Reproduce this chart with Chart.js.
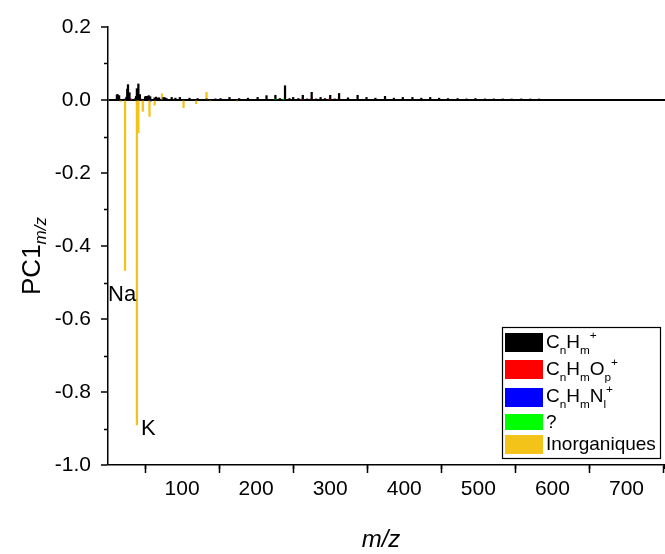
<!DOCTYPE html>
<html>
<head>
<meta charset="utf-8">
<script src="https://cdn.jsdelivr.net/npm/chart.js@4.4.0/dist/chart.umd.min.js"></script>
<style>html,body{margin:0;padding:0;background:#fff;overflow:hidden}</style>
</head>
<body>
<canvas id="c" width="665" height="554"></canvas>
<script>
// ---- data ----
const seriesNames = ['CₙHₘ⁺', 'CₙHₘOₚ⁺', 'CₙHₘNₗ⁺', '?', 'Inorganiques'];
const seriesColors = ['#000000', '#ff0000', '#0000ff', '#00ff00', '#f3c31a'];

// CnHm+
const hcMz = [12,13,14,15, 24,25,26,27,28,29, 37,38,39,40,41,42,43, 50,51,53,55,57, 63,65,67,69, 75,77,79, 86,91,97,
  110,121,133,145,152, 164,177,189,
  202,214,226,232,239,245,250,257,263,269,275,281,287,293,300,306,312,
  324,337,349,361,374,386,398,411,423,435,447,
  459,472,484,496,509,521,533,545,558,570,582];
const hcVal = [0.014,0.015,0.010,0.012, 0.004,0.008,0.030,0.042,0.012,0.020, 0.005,0.010,0.031,0.012,0.044,0.012,0.015, 0.008,0.010,0.010,0.012,0.009, 0.006,0.008,0.005,0.006, 0.007,0.006,0.004, 0.007,0.005,0.007,
  0.005,0.004,0.003,0.003,0.004, 0.007,0.004,0.005,
  0.007,0.012,0.013,0.004,0.039,0.004,0.007,0.004,0.013,0.003,0.021,0.003,0.007,0.004,0.013,0.003,0.018,
  0.006,0.013,0.007,0.005,0.010,0.005,0.007,0.007,0.005,0.007,0.005,
  0.004,0.004,0.003,0.004,0.003,0.003,0.003,0.002,0.003,0.002,0.002];
// CnHmOp+
const hcoMz = [31,44,262,274,299,311];
const hcoVal = [0.002,0.003,0.002,0.003,0.002,0.003];
// CnHmNl+
const hcnMz = [30,58];
const hcnVal = [0.003,-0.002];
// ?
const unkMz = [37,226,237];
const unkVal = [0.003,0.002,0.002];
// Inorganiques
const inMz = [17,23,39,41,47,56,63,73,102,119,133,138,174];
const inVal = [-0.004,-0.467,-0.89,-0.09,-0.031,-0.045,-0.014,0.017,-0.021,-0.01,0.021,-0.003,-0.003];

// axis ticks
const xTicks = [100,200,300,400,500,600,700];
const xMinor = [50,150,250,350,450,550,650,750];
const yTicks = [0.2,0.0,-0.2,-0.4,-0.6,-0.8,-1.0];
const yMinor = [0.1,-0.1,-0.3,-0.5,-0.7,-0.9];

// titles & annotations
const xTitle = 'm/z';
const yTitleMain = 'PC1';
const yTitleSub = 'm/z';
const annotText = ['Na','K'];
const annotMz = [23,39];
const annotVal = [-0.467,-0.89];

// legend rich text (0 normal, -1 subscript, 1 superscript)
const legendRich = [
  [['C',0],['n',-1],['H',0],['m',-1],['+',1]],
  [['C',0],['n',-1],['H',0],['m',-1],['O',0],['p',-1],['+',1]],
  [['C',0],['n',-1],['H',0],['m',-1],['N',0],['l',-1],['+',1]],
  [['?',0]],
  [['Inorganiques',0]]
];

const FAM = "'Liberation Sans', Arial, sans-serif";
Chart.defaults.font.family = FAM;
Chart.defaults.color = '#000';

function pts(mz, v){ return mz.map((m,i)=>({x:m, y:v[i]})); }
const allSeries = [pts(hcMz,hcVal), pts(hcoMz,hcoVal), pts(hcnMz,hcnVal), pts(unkMz,unkVal), pts(inMz,inVal)];

const datasets = allSeries.map((d,i)=>({
  label: seriesNames[i],
  data: d,
  backgroundColor: seriesColors[i],
  borderWidth: 0,
  barThickness: 1.6,
  grouped: false
}));

function drawRich(ctx, parts, x, y, size){
  let cx = x;
  for (const [t, mode] of parts){
    let fs = size, dy = 0;
    if (mode === -1){ fs = size*0.62; dy = size*0.30; }
    if (mode === 1){ fs = size*0.62; dy = -size*0.48; }
    ctx.font = fs + 'px ' + FAM;
    ctx.fillText(t, cx, y + dy);
    cx += ctx.measureText(t).width;
  }
}

const decor = {
  id: 'decor',
  afterDraw(chart){
    const ctx = chart.ctx;
    const xs = chart.scales.x, ys = chart.scales.y, ca = chart.chartArea;
    ctx.save();
    // minor ticks
    ctx.strokeStyle = '#000'; ctx.lineWidth = 1.5;
    ctx.beginPath();
    for (const v of yMinor){ const p = Math.round(ys.getPixelForValue(v))+0.5; ctx.moveTo(ca.left-4, p); ctx.lineTo(ca.left, p); }
    for (const v of xMinor){ const p = Math.round(xs.getPixelForValue(v))+0.5; ctx.moveTo(p, ca.bottom); ctx.lineTo(p, ca.bottom+4); }
    ctx.stroke();

    ctx.fillStyle = '#000';
    ctx.textBaseline = 'alphabetic';
    ctx.textAlign = 'left';
    // annotations
    ctx.font = '22px ' + FAM;
    ctx.fillText(annotText[0], xs.getPixelForValue(annotMz[0]) - 17, ys.getPixelForValue(annotVal[0]) + 31);
    ctx.fillText(annotText[1], xs.getPixelForValue(annotMz[1]) + 4, ys.getPixelForValue(annotVal[1]) + 10);

    // x title
    ctx.save();
    ctx.font = 'italic 24px ' + FAM;
    ctx.textAlign = 'center';
    ctx.textBaseline = 'middle';
    ctx.fillText(xTitle, 381, 540);
    ctx.restore();

    // y title PC1 m/z
    ctx.save();
    ctx.translate(40, 256);
    ctx.rotate(-Math.PI/2);
    ctx.font = '26px ' + FAM;
    const w1 = ctx.measureText(yTitleMain).width;
    ctx.font = 'italic 17px ' + FAM;
    const w2 = ctx.measureText(yTitleSub).width;
    const st = -(w1+w2)/2;
    ctx.font = '26px ' + FAM;
    ctx.fillText(yTitleMain, st, 0);
    ctx.font = 'italic 17px ' + FAM;
    ctx.fillText(yTitleSub, st + w1, 6);
    ctx.restore();

    // legend
    const L = 502, T = 327, W = 158, H = 131;
    ctx.fillStyle = '#fff';
    ctx.fillRect(L, T, W, H);
    ctx.strokeStyle = '#000'; ctx.lineWidth = 1.2;
    ctx.strokeRect(L+0.5, T+0.5, W, H);
    const swTop = [6,33,61,87,108], swH = [19,19,19,16,19], base = [21,48,75,101,123];
    for (let i=0;i<5;i++){
      ctx.fillStyle = chart.data.datasets[i].backgroundColor;
      ctx.fillRect(L+3, T+swTop[i], 38, swH[i]);
      ctx.fillStyle = '#000';
      drawRich(ctx, legendRich[i], L+44, T+base[i], 19);
    }
    ctx.restore();
  }
};

new Chart(document.getElementById('c'), {
  type: 'bar',
  data: { datasets },
  options: {
    responsive: false,
    devicePixelRatio: 1,
    animation: false,
    layout: { padding: { left: 0, right: 0, top: 27, bottom: 0 } },
    plugins: { legend: { display: false }, tooltip: { enabled: false } },
    scales: {
      x: {
        type: 'linear', min: 0, max: 752, offset: false,
        afterBuildTicks: s => { s.ticks = xTicks.map(v=>({value:v})); },
        afterFit: s => { s.height = 89; },
        grid: { display: true, drawOnChartArea: false, drawTicks: true, tickLength: 8, tickWidth: 1.5, tickColor: '#000' },
        border: { display: true, color: '#000', width: 1.5 },
        ticks: { color: '#000', font: { size: 21 }, padding: 4, maxRotation: 0, autoSkip: false },
        title: { display: false }
      },
      y: {
        type: 'linear', min: -1.0, max: 0.2,
        afterBuildTicks: s => { s.ticks = yTicks.map(v=>({value:v})); },
        afterFit: s => { s.width = 108; },
        grid: {
          display: true, drawOnChartArea: true, drawTicks: true, tickLength: 7, tickWidth: 1.5, tickColor: '#000',
          color: c => (c.tick && Math.abs(c.tick.value) < 1e-9) ? '#000' : 'rgba(0,0,0,0)',
          lineWidth: c => (c.tick && Math.abs(c.tick.value) < 1e-9) ? 2 : 0
        },
        border: { display: true, color: '#000', width: 1.5 },
        ticks: { color: '#000', font: { size: 21 }, padding: 10, autoSkip: false, callback: v => Number(v).toFixed(1) }
      }
    }
  },
  plugins: [decor]
});
</script>
</body>
</html>
